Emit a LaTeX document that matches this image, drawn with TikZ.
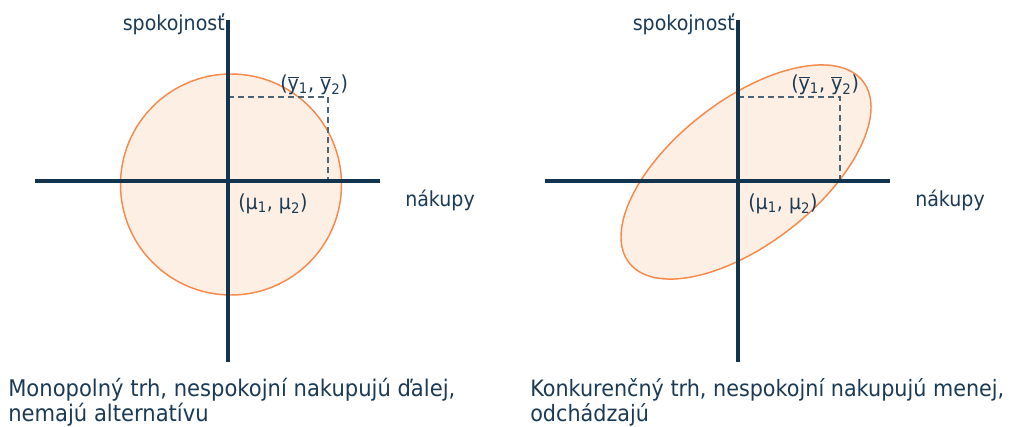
\documentclass[tikz,border=0pt]{standalone}
\usepackage{fontspec}
\setmainfont{DejaVu Sans}
\newfontfamily\capfont[FakeStretch=0.92]{DejaVu Sans}
\usetikzlibrary{calc}
\definecolor{navy}{HTML}{12344F}
\definecolor{txt}{HTML}{1A3A55}
\definecolor{orng}{HTML}{F7894A}
\definecolor{peach}{HTML}{FDEFE3}
\definecolor{dashcol}{HTML}{4D6272}
\newcommand{\ybar}[1]{$\overline{\mbox{y}}$\textsubscript{#1}}
\begin{document}
\begin{tikzpicture}[x=0.75pt,y=0.75pt,
  axis/.style={draw=navy,line width=2.3pt},
  blob/.style={draw=orng,fill=peach,line width=1.1pt},
  guide/.style={draw=dashcol,line width=1.1pt,dash pattern=on 4.5pt off 3pt},
  lbl/.style={text=txt,inner sep=0pt,font=\capfont\fontsize{15.5pt}{18pt}\selectfont},
  captxt/.style={text=txt,inner sep=0pt,font=\capfont\fontsize{17.2pt}{19.5pt}\selectfont},
  captxtr/.style={text=txt,inner sep=0pt,font=\capfont\fontsize{16.9pt}{19.5pt}\selectfont}]
\useasboundingbox (0,0) rectangle (1009,426);
% ---------- left panel ----------
\draw[blob] (231,241.5) circle (110.5);
\coordinate (Ltop) at (228,406);
\coordinate (Lbot) at (228,64);
\coordinate (Lleft) at (35,245);
\coordinate (Lright) at (380,245);
\coordinate (Ly) at (228,329);
\coordinate (Lc) at (328,329);
\coordinate (Lx) at (328,245);
\draw[guide] (Ly) -- (Lc) -- (Lx);
\draw[axis] (Ltop) -- (Lbot);
\draw[axis] (Lleft) -- (Lright);
\node[lbl,anchor=base east] (Lsp) at (225,396) {spokojnosť};
\node[lbl,anchor=base west] (Lnk) at (405,220) {nákupy};
\node[lbl,anchor=base west] (Lyb) at (280,336) {(\ybar{1}, \ybar{2})};
\node[lbl,anchor=base west] (Lmu) at (238,217) {(μ\textsubscript{1}, μ\textsubscript{2})};
\node[captxt,anchor=base west] (Lc1) at (8,30) {Monopolný trh, nespokojní nakupujú ďalej,};
\node[captxt,anchor=base west] (Lc2) at (8,5) {nemajú alternatívu};
% ---------- right panel ----------
\draw[blob,rotate around={37.8:(746,254)}] (746,254) ellipse [x radius=148, y radius=72];
\coordinate (Rtop) at (738,406);
\coordinate (Rbot) at (738,64);
\coordinate (Rleft) at (545,245);
\coordinate (Rright) at (890,245);
\coordinate (Ry) at (738,329);
\coordinate (Rc) at (840,329);
\coordinate (Rx) at (840,245);
\draw[guide] (Ry) -- (Rc) -- (Rx);
\draw[axis] (Rtop) -- (Rbot);
\draw[axis] (Rleft) -- (Rright);
\node[lbl,anchor=base east] (Rsp) at (735,396) {spokojnosť};
\node[lbl,anchor=base west] (Rnk) at (915,220) {nákupy};
\node[lbl,anchor=base west] (Ryb) at (791,336) {(\ybar{1}, \ybar{2})};
\node[lbl,anchor=base west] (Rmu) at (748,217) {(μ\textsubscript{1}, μ\textsubscript{2})};
\node[captxtr,anchor=base west] (Rc1) at (530,30) {Konkurenčný trh, nespokojní nakupujú menej,};
\node[captxtr,anchor=base west] (Rc2) at (530,5) {odchádzajú};
\end{tikzpicture}
\end{document}
